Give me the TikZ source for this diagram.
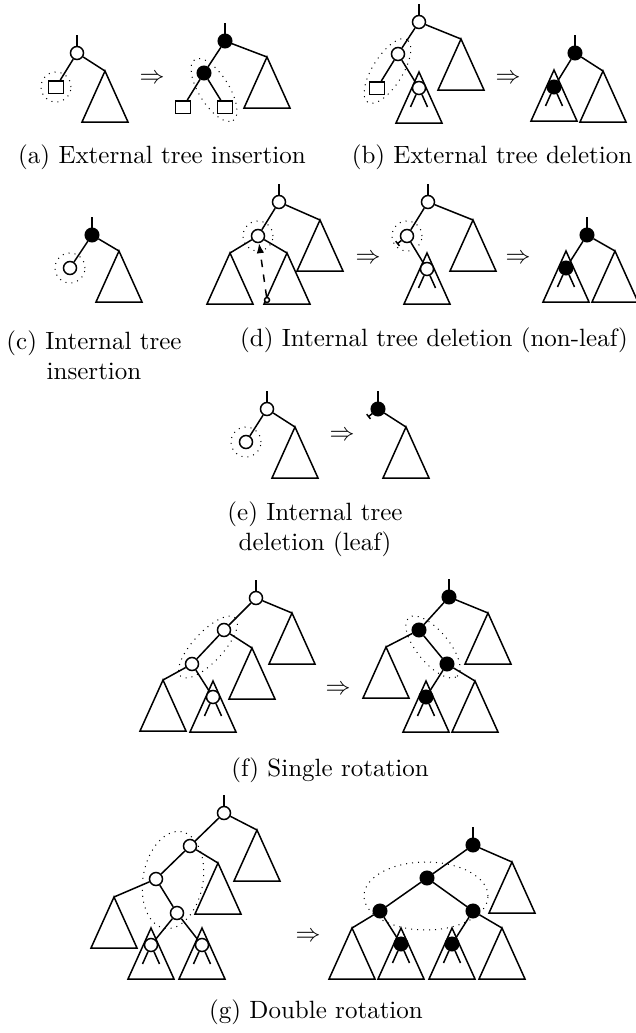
\documentclass[tikz,border=0pt]{standalone}
\usepackage{amsmath}
\usepackage{tikz}
\usetikzlibrary{arrows.meta}
\newcommand{\subtree}[1]{\draw (#1) -- ++(-23,51) -- ++(46,0) -- cycle;}
\newcommand{\rootstem}[1]{\draw (#1) -- ++(0,-18);}
\newcommand{\legs}[1]{\draw (#1) -- ++(-8.5,19) (#1) -- ++(8.5,19);}

\begin{document}
\begin{tikzpicture}[x=0.4pt,y=-0.4pt,semithick,
    wn/.style={circle,draw,fill=white,minimum size=5.2pt,inner sep=0pt},
    bn/.style={circle,draw,fill=black,minimum size=5.4pt,inner sep=0pt},
    ext/.style={rectangle,draw,fill=white,minimum width=6pt,minimum height=5pt,inner sep=0pt},
    holedot/.style={circle,draw,fill=white,minimum size=2pt,inner sep=0pt},
    grp/.style={thin,dotted},
    captext/.style={inner sep=0pt},
    nul/.style={-{Bar[width=2.4pt]}}
]
\useasboundingbox (0,0) rectangle (635,1033);

% (a) external insertion
\coordinate (a1t) at (105,71);
\subtree{a1t}
\node[wn] (a1r) at (77,53) {};
\node[ext] (a1s) at (56,87) {};
\rootstem{a1r}
\draw (a1r) -- (a1s) (a1r) -- (a1t);
\draw[grp] (a1s) circle[radius=6pt];
\node (a1to) at (152,79) {$\Rightarrow$};

\coordinate (a2t) at (267,57);
\subtree{a2t}
\node[bn] (a2r) at (225,41) {};
\node[bn] (a2c) at (204,73) {};
\node[ext] (a2s) at (183,107) {};
\node[ext] (a2u) at (225,107) {};
\rootstem{a2r}
\draw (a2r) -- (a2c) (a2r) -- (a2t) (a2c) -- (a2s) (a2c) -- (a2u);
\draw[grp,rotate around={-58:(214,90)}] (214,90) ellipse[x radius=14.4pt,y radius=6pt];

\node[captext] (acap) at (162,157) {(a) External tree insertion};

% (b) external deletion
\coordinate (b1t) at (461,39);
\coordinate (b1u) at (419,72);
\subtree{b1t}
\subtree{b1u}
\node[wn] (b1r) at (419,22) {};
\node[wn] (b1c) at (398,54) {};
\node[ext] (b1s) at (377,88) {};
\node[wn] (b1d) at (419,88) {};
\rootstem{b1r}
\draw (b1r) -- (b1c) (b1r) -- (b1t) (b1c) -- (b1s) (b1c) -- (b1d);
\legs{b1d}
\draw[grp,rotate around={58:(387.5,71)}] (387.5,71) ellipse[x radius=14.8pt,y radius=6pt];
\node (b1to) at (508,79) {$\Rightarrow$};

\coordinate (b2t) at (554,70);
\coordinate (b2u) at (603,71);
\subtree{b2t}
\subtree{b2u}
\node[bn] (b2r) at (575,53) {};
\node[bn] (b2c) at (554,87) {};
\rootstem{b2r}
\draw (b2r) -- (b2c) (b2r) -- (b2u);
\legs{b2c}

\node[captext] (bcap) at (492,157) {(b) External tree deletion};

% (c) internal insertion
\coordinate (c1t) at (119,251);
\subtree{c1t}
\node[bn] (c1r) at (92,235) {};
\node[wn] (c1c) at (70,268) {};
\rootstem{c1r}
\draw (c1r) -- (c1c) (c1r) -- (c1t);
\draw[grp] (c1c) circle[radius=6pt];

\node[captext,align=center] (ccap) at (94,355) {(c) Internal tree\\insertion};

% (d) internal deletion, non-leaf
\coordinate (d1t) at (320,220);
\coordinate (d1l) at (230,253);
\coordinate (d1m) at (287,253);
\subtree{d1t}
\subtree{d1l}
\subtree{d1m}
\node[wn] (d1r) at (279,202) {};
\node[wn] (d1c) at (258,236) {};
\node[holedot] (d1p) at (267,300) {};
\rootstem{d1r}
\draw (d1r) -- (d1c) (d1r) -- (d1t) (d1c) -- (d1l) (d1c) -- (d1m);
\draw[grp] (d1c) circle[radius=6pt];
\draw[dashed,-{Latex[length=4pt,width=3pt]}] (d1p) -- (d1c);
\node (d1to) at (368,259) {$\Rightarrow$};

\coordinate (d2t) at (473,220);
\coordinate (d2u) at (427,253);
\subtree{d2t}
\subtree{d2u}
\node[wn] (d2r) at (428,202) {};
\node[wn] (d2c) at (407,236) {};
\node[wn] (d2d) at (427,269) {};
\rootstem{d2r}
\draw (d2r) -- (d2c) (d2r) -- (d2t) (d2c) -- (d2d);
\legs{d2d}
\draw[nul] (d2c) -- ++(-10,8);
\draw[grp] (d2c) circle[radius=6pt];
\node (d2to) at (518,259) {$\Rightarrow$};

\coordinate (d3t) at (566,251);
\coordinate (d3u) at (615,251);
\subtree{d3t}
\subtree{d3u}
\node[bn] (d3r) at (587,235) {};
\node[bn] (d3c) at (566,268) {};
\rootstem{d3r}
\draw (d3r) -- (d3c) (d3r) -- (d3u);
\legs{d3c}

\node[captext] (dcap) at (434,340) {(d) Internal tree deletion (non-leaf)};

% (e) internal deletion, leaf
\coordinate (e1t) at (295,427);
\subtree{e1t}
\node[wn] (e1r) at (267,409) {};
\node[wn] (e1c) at (246,442) {};
\rootstem{e1r}
\draw (e1r) -- (e1c) (e1r) -- (e1t);
\draw[grp] (e1c) circle[radius=6pt];
\node (e1to) at (342,436) {$\Rightarrow$};

\coordinate (e2t) at (406,427);
\subtree{e2t}
\node[bn] (e2r) at (378,409) {};
\rootstem{e2r}
\draw (e2r) -- (e2t);
\draw[nul] (e2r) -- ++(-10,8);

\node[captext,align=center] (ecap) at (315,529) {(e) Internal tree\\deletion (leaf)};

% (f) single rotation
\coordinate (f1t) at (292,613);
\coordinate (f1u) at (252,648);
\coordinate (f1v) at (163,680);
\coordinate (f1w) at (213,681);
\subtree{f1t}
\subtree{f1u}
\subtree{f1v}
\subtree{f1w}
\node[wn] (f1r) at (256,598) {};
\node[wn] (f1b) at (224,630) {};
\node[wn] (f1c) at (192,664) {};
\node[wn] (f1d) at (213,697) {};
\rootstem{f1r}
\draw (f1r) -- (f1b) (f1r) -- (f1t) (f1b) -- (f1c) (f1b) -- (f1u)
      (f1c) -- (f1v) (f1c) -- (f1d);
\legs{f1d}
\draw[grp,rotate around={47:(208,647)}] (208,647) ellipse[x radius=16pt,y radius=6pt];
\node (f1to) at (338,690) {$\Rightarrow$};

\coordinate (f2t) at (488,613);
\coordinate (f2u) at (386,647);
\coordinate (f2v) at (426,681);
\coordinate (f2w) at (475,681);
\subtree{f2t}
\subtree{f2u}
\subtree{f2v}
\subtree{f2w}
\node[bn] (f2r) at (449,597) {};
\node[bn] (f2b) at (419,630) {};
\node[bn] (f2c) at (447,664) {};
\node[bn] (f2d) at (426,697) {};
\rootstem{f2r}
\draw (f2r) -- (f2b) (f2r) -- (f2t) (f2b) -- (f2u) (f2b) -- (f2c)
      (f2c) -- (f2d) (f2c) -- (f2w);
\legs{f2d}
\draw[grp,rotate around={-50.5:(433,647)}] (433,647) ellipse[x radius=15.2pt,y radius=6.4pt];

\node[captext] (fcap) at (330,770) {(f) Single rotation};

% (g) double rotation
\coordinate (g1t) at (257,830);
\coordinate (g1u) at (218,863);
\coordinate (g1v) at (114,897);
\coordinate (g1w) at (151,928);
\coordinate (g1x) at (202,928);
\subtree{g1t}
\subtree{g1u}
\subtree{g1v}
\subtree{g1w}
\subtree{g1x}
\node[wn] (g1r) at (224,813) {};
\node[wn] (g1b) at (190,846) {};
\node[wn] (g1c) at (156,879) {};
\node[wn] (g1d) at (177,913) {};
\node[wn] (g1e) at (151,945) {};
\node[wn] (g1f) at (202,945) {};
\rootstem{g1r}
\draw (g1r) -- (g1b) (g1r) -- (g1t) (g1b) -- (g1c) (g1b) -- (g1u)
      (g1c) -- (g1v) (g1c) -- (g1d) (g1d) -- (g1e) (g1d) -- (g1f);
\legs{g1e}
\legs{g1f}
\draw[grp,rotate around={80:(173,880)}] (173,880) ellipse[x radius=19.6pt,y radius=12pt];
\node (g1to) at (308,937) {$\Rightarrow$};

\coordinate (g2t) at (512,862);
\coordinate (g2u) at (352,928);
\coordinate (g2v) at (401,928);
\coordinate (g2w) at (452,928);
\coordinate (g2x) at (502,928);
\subtree{g2t}
\subtree{g2u}
\subtree{g2v}
\subtree{g2w}
\subtree{g2x}
\node[bn] (g2r) at (473,845) {};
\node[bn] (g2b) at (427,878) {};
\node[bn] (g2c) at (380,911) {};
\node[bn] (g2d) at (473,911) {};
\node[bn] (g2e) at (401,944) {};
\node[bn] (g2f) at (452,944) {};
\rootstem{g2r}
\draw (g2r) -- (g2b) (g2r) -- (g2t) (g2b) -- (g2c) (g2b) -- (g2d)
      (g2c) -- (g2u) (g2c) -- (g2e) (g2d) -- (g2f) (g2d) -- (g2x);
\legs{g2e}
\legs{g2f}
\draw[grp] (426,896) ellipse[x radius=24.8pt,y radius=13.6pt];

\node[captext] (gcap) at (316,1012) {(g) Double rotation};

\end{tikzpicture}
\end{document}
